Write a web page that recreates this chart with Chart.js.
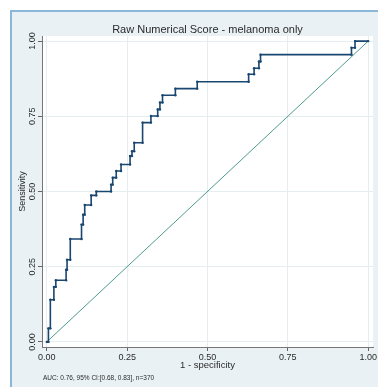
<!DOCTYPE html>
<html lang="en">
<head>
  <meta charset="UTF-8" />
  <title>ROC - melanoma only</title>
  <style>
    html, body { margin: 0; padding: 0; background: #fff; overflow: hidden; }
    body { width: 378px; height: 387px; position: relative; }
    .bg { position: absolute; left: 10px; top: 10px; width: 368px; height: 377px; background: #e9f1f4; }
    .edge-l { position: absolute; left: 10px; top: 10px; width: 2px; height: 377px; background: #8ab6d8; }
    .edge-t { position: absolute; left: 10px; top: 10px; width: 368px; height: 2px; background: #8ab6d8; }
    #roc { position: absolute; left: 0; top: 0; }
  </style>
</head>
<body>
  <div class="bg"></div>
  <div class="edge-l"></div>
  <div class="edge-t"></div>
  <canvas id="roc" width="378" height="387"></canvas>

  <script src="https://cdn.jsdelivr.net/npm/chart.js"></script>
  <script>
    // ROC step curve (1 - specificity, sensitivity)
    const fpr = [0, 0.005, 0.005, 0.011, 0.011, 0.022, 0.022, 0.028, 0.028, 0.06, 0.06, 0.063, 0.063, 0.073, 0.073,
      0.108, 0.108, 0.113, 0.113, 0.118, 0.118, 0.138, 0.138, 0.154, 0.154, 0.20, 0.20, 0.205, 0.205, 0.216, 0.216,
      0.231, 0.231, 0.259, 0.259, 0.265, 0.265, 0.272, 0.272, 0.298, 0.298, 0.324, 0.324, 0.345, 0.345, 0.352, 0.352,
      0.36, 0.36, 0.40, 0.40, 0.468, 0.468, 0.628, 0.628, 0.645, 0.645, 0.66, 0.66, 0.665, 0.665, 0.948, 0.948,
      0.959, 0.959, 1];
    const tpr = [0, 0, 0.045, 0.045, 0.14, 0.14, 0.183, 0.183, 0.205, 0.205, 0.24, 0.24, 0.273, 0.273, 0.342,
      0.342, 0.39, 0.39, 0.423, 0.423, 0.455, 0.455, 0.487, 0.487, 0.50, 0.50, 0.523, 0.523, 0.546, 0.546, 0.568,
      0.568, 0.59, 0.59, 0.618, 0.618, 0.634, 0.634, 0.662, 0.662, 0.729, 0.729, 0.751, 0.751, 0.773, 0.773, 0.796,
      0.796, 0.82, 0.82, 0.842, 0.842, 0.865, 0.865, 0.89, 0.89, 0.91, 0.91, 0.932, 0.932, 0.955, 0.955, 0.978,
      0.978, 1, 1];
    const refLine = [0, 1];
    const xTicks = [0, 0.25, 0.5, 0.75, 1];
    const yTicks = [0, 0.25, 0.5, 0.75, 1];
    const chartTitle = 'Raw Numerical Score - melanoma only';
    const xTitle = '1 - specificity';
    const yTitle = 'Sensitivity';
    const note = 'AUC: 0.76, 95% CI:[0.68, 0.83], n=370';

    const FONT = '"Liberation Sans", Arial, sans-serif';
    const fmt = v => Number(v).toFixed(2);

    // white plot region + hand drawn texts (rotated y labels etc.)
    const decor = {
      id: 'decor',
      beforeDraw(chart) {
        const { ctx, chartArea: a } = chart;
        ctx.save();
        ctx.fillStyle = '#ffffff';
        ctx.fillRect(a.left, a.top, a.right - a.left, a.bottom - a.top);
        ctx.restore();
      },
      afterDraw(chart) {
        const { ctx, scales: { x, y } } = chart;
        ctx.save();
        ctx.fillStyle = '#2b2b2b';
        ctx.textAlign = 'center';
        ctx.textBaseline = 'middle';
        // y tick labels, rotated
        ctx.font = '9px ' + FONT;
        yTicks.forEach(v => {
          ctx.save();
          ctx.translate(33, y.getPixelForValue(v));
          ctx.rotate(-Math.PI / 2);
          ctx.fillText(fmt(v), 0, 0);
          ctx.restore();
        });
        // y title
        ctx.save();
        ctx.font = '9px ' + FONT;
        ctx.translate(23, y.getPixelForValue(0.5));
        ctx.rotate(-Math.PI / 2);
        ctx.fillText(yTitle, 0, 0);
        ctx.restore();
        // x title
        ctx.font = '9.5px ' + FONT;
        ctx.fillText(xTitle, x.getPixelForValue(0.5), 365);
        // main title
        ctx.font = '11px ' + FONT;
        ctx.fillText(chartTitle, x.getPixelForValue(0.5), 30);
        // note
        ctx.font = '6.5px ' + FONT;
        ctx.textAlign = 'left';
        ctx.fillText(note, 43, 378);
        ctx.restore();
      }
    };

    new Chart(document.getElementById('roc'), {
      type: 'line',
      data: {
        datasets: [
          {
            label: 'ROC',
            data: fpr.map((v, i) => ({ x: v, y: tpr[i] })),
            borderColor: '#1a476f',
            backgroundColor: '#1a476f',
            borderWidth: 1.6,
            pointRadius: 1.2,
            pointHoverRadius: 1.2,
            pointBorderWidth: 0,
            tension: 0,
            order: 1
          },
          {
            label: 'Reference',
            data: refLine.map(v => ({ x: v, y: v })),
            borderColor: '#4f9b8f',
            borderWidth: 1,
            pointRadius: 0,
            tension: 0,
            order: 2
          }
        ]
      },
      options: {
        responsive: false,
        animation: false,
        events: [],
        layout: { padding: { left: 0, right: 4, top: 36, bottom: 0 } },
        plugins: { legend: { display: false }, tooltip: { enabled: false } },
        scales: {
          x: {
            type: 'linear',
            min: -0.015,
            max: 1.015,
            afterBuildTicks: s => { s.ticks = xTicks.map(v => ({ value: v })); },
            afterFit: s => { s.height = 40; },
            ticks: {
              callback: v => fmt(v),
              font: { family: FONT, size: 9 },
              color: '#2b2b2b',
              padding: 1,
              maxRotation: 0
            },
            grid: { color: '#e4eef1', lineWidth: 1, drawTicks: true, tickLength: 4, tickColor: '#666' },
            border: { display: true, color: '#777', width: 1 }
          },
          y: {
            type: 'linear',
            min: -0.017,
            max: 1.017,
            afterBuildTicks: s => { s.ticks = yTicks.map(v => ({ value: v })); },
            afterFit: s => { s.width = 42; },
            ticks: { display: false },
            grid: { color: '#e4eef1', lineWidth: 1, drawTicks: true, tickLength: 4, tickColor: '#666' },
            border: { display: true, color: '#777', width: 1 }
          }
        }
      },
      plugins: [decor]
    });
  </script>
</body>
</html>
